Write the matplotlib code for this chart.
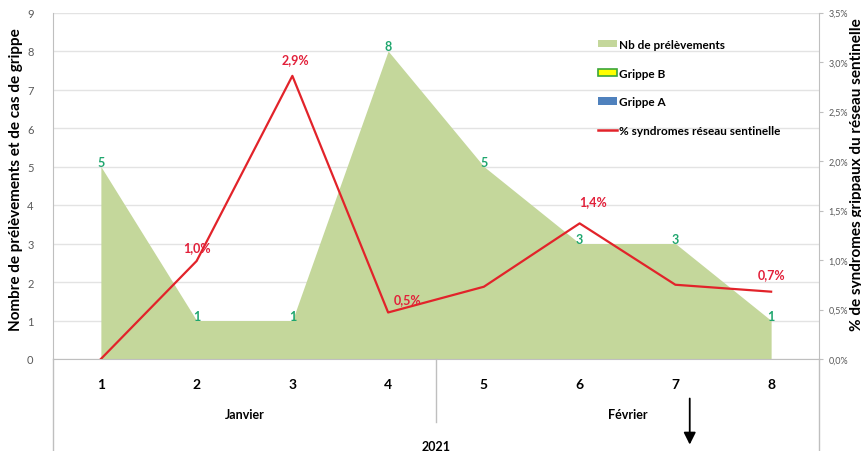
import matplotlib.pyplot as plt
import matplotlib.transforms as mtransforms
from matplotlib.patches import Patch
from matplotlib.lines import Line2D

# données
semaines = [1, 2, 3, 4, 5, 6, 7, 8]
nb_prelevements = [5, 1, 1, 8, 5, 3, 3, 1]
pct_syndromes = [0.0, 0.99, 2.86, 0.47, 0.73, 1.37, 0.75, 0.68]
etiquettes_pct = ['', '1,0%', '2,9%', '0,5%', '', '1,4%', '', '0,7%']
mois = ['Janvier', 'Février']
annee = '2021'
ticks_droite = [0, 0.5, 1.0, 1.5, 2.0, 2.5, 3.0, 3.5]

vert = '#c4d79b'
rouge = '#e2232a'
rouge_txt = '#e2203a'
vert_txt = '#1fa66e'
gris = '#bfbfbf'

plt.rcParams['font.family'] = ['Lato', 'DejaVu Sans']

fig = plt.figure(figsize=(8.61, 4.52), dpi=100)
ax = fig.add_axes([53 / 861, 1 - 360 / 452, 766 / 861, 346.5 / 452])

ax.fill_between(semaines, nb_prelevements, 0, color=vert, linewidth=0, zorder=2)
ax.set_xlim(0.5, 8.5)
ax.set_ylim(0, 9)
ax.set_yticks(range(10))
ax.yaxis.grid(True, color='#e3e3e3', linewidth=1, zorder=0)
ax.set_axisbelow(True)
ax.tick_params(axis='y', length=0, labelsize=8, labelcolor='#595959', pad=14)
ax.set_xticks(semaines)
ax.set_xticklabels([str(s) for s in semaines], fontweight='bold', fontsize=10)
ax.tick_params(axis='x', length=0, pad=14)
for s in ['top', 'right']:
    ax.spines[s].set_visible(False)
ax.spines['left'].set_color(gris)
ax.spines['bottom'].set_color(gris)

for x, v in zip(semaines, nb_prelevements):
    ax.annotate(str(v), (x, v), xytext=(0, -1), textcoords='offset points',
                ha='center', va='bottom', color=vert_txt, fontsize=9,
                fontweight='bold', zorder=5)

ax2 = ax.twinx()
ax2.plot(semaines, pct_syndromes, color=rouge, linewidth=1.6, zorder=3)
ax2.set_ylim(0, 3.5)
ax2.set_yticks(ticks_droite)
ax2.set_yticklabels([('%.1f' % t).replace('.', ',') + '%' for t in ticks_droite])
ax2.tick_params(axis='y', length=3, color=gris, labelsize=6.5, labelcolor='#595959', pad=4)
for s in ['top', 'left', 'bottom']:
    ax2.spines[s].set_visible(False)
ax2.spines['right'].set_color(gris)

decalages = [(0, 6), (0, 6), (2, 8), (14, 5), (0, 6), (10, 12), (0, 6), (0, 8)]
for x, v, lab, d in zip(semaines, pct_syndromes, etiquettes_pct, decalages):
    if lab:
        ax2.annotate(lab, (x, v), xytext=d, textcoords='offset points',
                     ha='center', va='bottom', color=rouge_txt, fontsize=9,
                     fontweight='bold')

# zone sous l'axe : mois, année, séparateur
trans = mtransforms.blended_transform_factory(ax.transData, ax.transAxes)
ax.plot([4.5, 4.5], [0, -0.182], transform=trans, color=gris, lw=1, clip_on=False)
ax.plot([0.5, 0.5], [0, -0.27], transform=trans, color=gris, lw=1, clip_on=False)
ax.plot([8.5, 8.5], [0, -0.27], transform=trans, color=gris, lw=1, clip_on=False)
ax.text(2.5, -0.159, mois[0], transform=trans, ha='center', va='center',
        fontsize=9, fontweight='bold')
ax.text(6.5, -0.159, mois[1], transform=trans, ha='center', va='center',
        fontsize=9, fontweight='bold')
ax.text(4.5, -0.251, annee, transform=trans, ha='center', va='center',
        fontsize=9, fontweight='bold')
ax.annotate('', xy=(7.15, -0.255), xytext=(7.15, -0.106), xycoords=trans, textcoords=trans,
            arrowprops=dict(arrowstyle='-|>', color='black', lw=1.3, mutation_scale=18),
            annotation_clip=False)

fig.text(16 / 861, 1 - 180 / 452, 'Nombre de prélèvements et de cas de grippe',
         rotation=90, ha='center', va='center', fontsize=11, fontweight='bold')
fig.text(857 / 861, 1 - 175 / 452, '% de syndromes grippaux du réseau sentinelle',
         rotation=90, ha='center', va='center', fontsize=11, fontweight='bold')

poignees = [Patch(facecolor=vert, edgecolor='none'),
            Patch(facecolor='#ffff00', edgecolor='#3aa63a', linewidth=1.2),
            Patch(facecolor='#4f81bd', edgecolor='none'),
            Line2D([0], [0], color=rouge, lw=1.8)]
noms = ['Nb de prélèvements', 'Grippe B', 'Grippe A', '% syndromes réseau sentinelle']
ax2.legend(poignees, noms, loc='upper left', bbox_to_anchor=(592 / 861, 1 - 34 / 452),
           bbox_transform=fig.transFigure, frameon=False,
           prop={'weight': 'bold', 'size': 8.5}, labelspacing=1.5,
           handlelength=1.6, handleheight=0.6, handletextpad=0.15, borderpad=0)

fig.savefig('out.png', dpi=100)
